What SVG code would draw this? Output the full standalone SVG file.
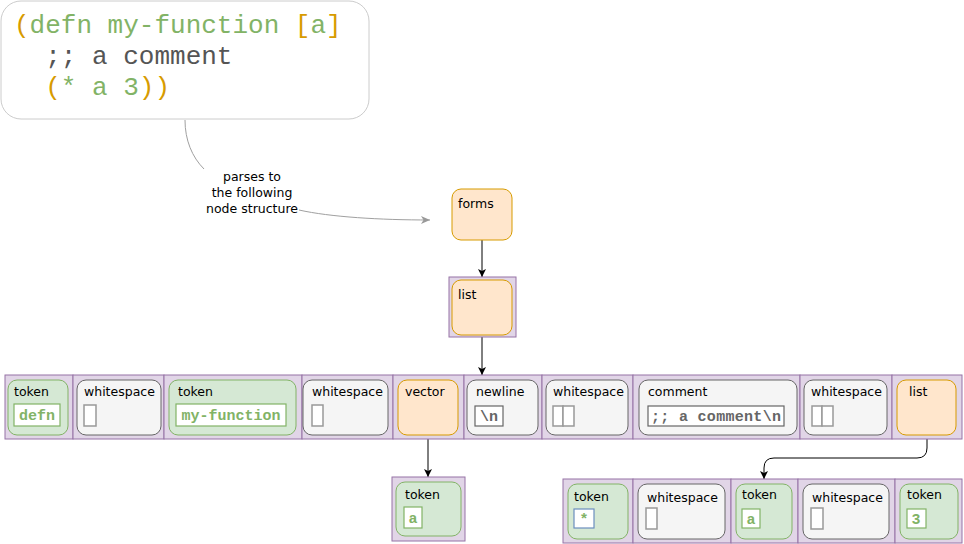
<svg xmlns="http://www.w3.org/2000/svg" width="964" height="544" viewBox="0 0 964 544">
<style>
.cell{fill:#e1d5e7;stroke:#9673a6;stroke-width:1}
.tok{fill:#d5e8d4;stroke:#82b366;stroke-width:1}
.ws{fill:#f5f5f5;stroke:#666666;stroke-width:1}
.coll{fill:#ffe6cc;stroke:#d79b00;stroke-width:1}
.lbl{font-family:"DejaVu Sans",Verdana,sans-serif;font-size:12.5px;fill:#000}
.gbox{fill:#ffffff;stroke:#82b366;stroke-width:1.2}
.dbox{fill:#ffffff;stroke:#666666;stroke-width:1.2}
.wbox{fill:#ffffff;stroke:#999999;stroke-width:1.5}
.bbox{fill:#ffffff;stroke:#6c8ebf;stroke-width:1.2}
.gtxt{font-family:"Liberation Mono","Courier New",monospace;font-weight:bold;font-size:15px;fill:#82b366}
.dtxt{font-family:"Liberation Mono","Courier New",monospace;font-weight:bold;font-size:15px;fill:#666666}
.code{font-family:"Liberation Mono","Courier New",monospace;font-size:26px}
.edge{fill:none;stroke:#000;stroke-width:1}
</style>
<defs>
<marker id="arr" markerWidth="10" markerHeight="10" refX="8" refY="5" orient="auto" markerUnits="userSpaceOnUse">
<path d="M0,1 L8,5 L0,9 L2,5 Z" fill="#000"/>
</marker>
<marker id="garr" markerWidth="12" markerHeight="10" refX="9" refY="5" orient="auto" markerUnits="userSpaceOnUse">
<path d="M0,1 L9,5 L0,9 L2.5,5 Z" fill="#999999"/>
</marker>
</defs>

<g id="code">
<rect x="1" y="1" width="368" height="118" rx="20" fill="#ffffff" stroke="#cccccc"/>
<text class="code" x="14" y="33" xml:space="preserve"><tspan fill="#d79b00">(</tspan><tspan fill="#82b366">defn my-function </tspan><tspan fill="#d79b00">[</tspan><tspan fill="#82b366">a</tspan><tspan fill="#d79b00">]</tspan></text>
<text class="code" x="14" y="64" xml:space="preserve" fill="#555555">  ;; a comment</text>
<text class="code" x="14" y="95" xml:space="preserve"><tspan fill="#d79b00">  (</tspan><tspan fill="#82b366">* a 3</tspan><tspan fill="#d79b00">))</tspan></text>
</g>

<g id="connectors">
<path d="M185,120 C185,140 192,157 204,169" fill="none" stroke="#a0a0a0" stroke-width="1"/>
<path d="M299,210 C330,217 380,220 430,220" fill="none" stroke="#a0a0a0" stroke-width="1" marker-end="url(#garr)"/>
<text class="lbl" x="252" y="181" text-anchor="middle" font-size="12.5">parses to</text>
<text class="lbl" x="252" y="197" text-anchor="middle">the following</text>
<text class="lbl" x="252" y="213" text-anchor="middle">node structure</text>
<path class="edge" d="M482,240 L482,277" marker-end="url(#arr)"/>
<path class="edge" d="M482,337 L482,375" marker-end="url(#arr)"/>
<path class="edge" d="M428,435 L428,477" marker-end="url(#arr)"/>
<path class="edge" d="M927,435 L927,448 Q927,458 917,458 L774,458 Q764,458 764,468 L764,479" marker-end="url(#arr)"/>
</g>

<g id="forms">
<rect class="coll" x="452" y="189" width="60" height="51" rx="9"/>
<text class="lbl" x="458" y="208">forms</text>
</g>

<g id="list-root">
<rect class="cell" x="449" y="277" width="67" height="60"/>
<rect class="coll" x="452" y="280" width="60" height="55" rx="9"/>
<text class="lbl" x="458" y="299">list</text>
</g>

<g id="row-main">
<rect class="cell" x="5" y="375" width="68" height="64"/>
<rect class="cell" x="73" y="375" width="91" height="64"/>
<rect class="cell" x="164" y="375" width="138" height="64"/>
<rect class="cell" x="302" y="375" width="91" height="64"/>
<rect class="cell" x="393" y="375" width="71" height="64"/>
<rect class="cell" x="464" y="375" width="78" height="64"/>
<rect class="cell" x="542" y="375" width="91" height="64"/>
<rect class="cell" x="633" y="375" width="167" height="64"/>
<rect class="cell" x="800" y="375" width="92" height="64"/>
<rect class="cell" x="892" y="375" width="70" height="64"/>
</g>

<g id="token-defn">
<rect class="tok" x="8" y="380" width="60" height="55" rx="9"/>
<text class="lbl" x="14" y="396">token</text>
<rect class="gbox" x="14" y="404" width="46" height="22"/>
<text class="gtxt" x="37" y="420" text-anchor="middle">defn</text>
</g>
<g id="ws-1">
<rect class="ws" x="77" y="380" width="84" height="55" rx="9"/>
<text class="lbl" x="84" y="396">whitespace</text>
<rect class="wbox" x="84" y="405" width="12" height="21"/>
</g>
<g id="token-my-function">
<rect class="tok" x="169" y="380" width="127" height="55" rx="9"/>
<text class="lbl" x="178" y="396">token</text>
<rect class="gbox" x="176" y="404" width="110" height="22"/>
<text class="gtxt" x="231" y="420" text-anchor="middle">my-function</text>
</g>
<g id="ws-2">
<rect class="ws" x="303" y="380" width="85" height="55" rx="9"/>
<text class="lbl" x="312" y="396">whitespace</text>
<rect class="wbox" x="312" y="405" width="11" height="21"/>
</g>
<g id="vector">
<rect class="coll" x="398" y="380" width="60" height="55" rx="9"/>
<text class="lbl" x="405" y="396">vector</text>
</g>
<g id="newline">
<rect class="ws" x="467" y="380" width="71" height="55" rx="9"/>
<text class="lbl" x="476" y="396">newline</text>
<rect class="dbox" x="475" y="406" width="28" height="20"/>
<text class="dtxt" x="489" y="421" text-anchor="middle">\n</text>
</g>
<g id="ws-3">
<rect class="ws" x="546" y="380" width="82" height="55" rx="9"/>
<text class="lbl" x="553" y="396">whitespace</text>
<rect class="wbox" x="553" y="406" width="10" height="20"/>
<rect class="wbox" x="563" y="406" width="11" height="20"/>
</g>
<g id="comment">
<rect class="ws" x="639" y="380" width="158" height="55" rx="9"/>
<text class="lbl" x="648" y="396">comment</text>
<rect class="dbox" x="648" y="406" width="136" height="20"/>
<text class="dtxt" x="716" y="421" text-anchor="middle" textLength="130" lengthAdjust="spacing">;; a comment\n</text>
</g>
<g id="ws-4">
<rect class="ws" x="804" y="380" width="83" height="55" rx="9"/>
<text class="lbl" x="811" y="396">whitespace</text>
<rect class="wbox" x="812" y="406" width="10" height="20"/>
<rect class="wbox" x="822" y="406" width="11" height="20"/>
</g>
<g id="list-inner">
<rect class="coll" x="897" y="380" width="59" height="55" rx="9"/>
<text class="lbl" x="909" y="396">list</text>
</g>

<g id="token-a-vec">
<rect class="cell" x="392" y="477" width="73" height="64"/>
<rect class="tok" x="396" y="482" width="65" height="54" rx="9"/>
<text class="lbl" x="405" y="499">token</text>
<rect class="gbox" x="404" y="507" width="18" height="21"/>
<text class="gtxt" x="413" y="523" text-anchor="middle">a</text>
</g>

<g id="row-list">
<rect class="cell" x="563" y="479" width="70" height="64"/>
<rect class="cell" x="633" y="479" width="98" height="64"/>
<rect class="cell" x="731" y="479" width="67" height="64"/>
<rect class="cell" x="798" y="479" width="97" height="64"/>
<rect class="cell" x="895" y="479" width="67" height="64"/>
</g>
<g id="token-star">
<rect class="tok" x="568" y="484" width="60" height="55" rx="9"/>
<text class="lbl" x="574" y="501">token</text>
<rect class="bbox" x="574" y="509" width="20" height="19"/>
<text class="gtxt" x="584" y="524" text-anchor="middle">*</text>
</g>
<g id="ws-5">
<rect class="ws" x="638" y="484" width="87" height="55" rx="9"/>
<text class="lbl" x="647" y="502">whitespace</text>
<rect class="wbox" x="646" y="508" width="11" height="21"/>
</g>
<g id="token-a">
<rect class="tok" x="736" y="484" width="56" height="55" rx="9"/>
<text class="lbl" x="742" y="499">token</text>
<rect class="gbox" x="742" y="509" width="18" height="19"/>
<text class="gtxt" x="751" y="524" text-anchor="middle">a</text>
</g>
<g id="ws-6">
<rect class="ws" x="803" y="484" width="86" height="55" rx="9"/>
<text class="lbl" x="812" y="502">whitespace</text>
<rect class="wbox" x="811" y="508" width="12" height="21"/>
</g>
<g id="token-3">
<rect class="tok" x="900" y="484" width="58" height="55" rx="9"/>
<text class="lbl" x="907" y="499">token</text>
<rect class="gbox" x="907" y="509" width="19" height="19"/>
<text class="gtxt" x="916" y="524" text-anchor="middle">3</text>
</g>
</svg>
